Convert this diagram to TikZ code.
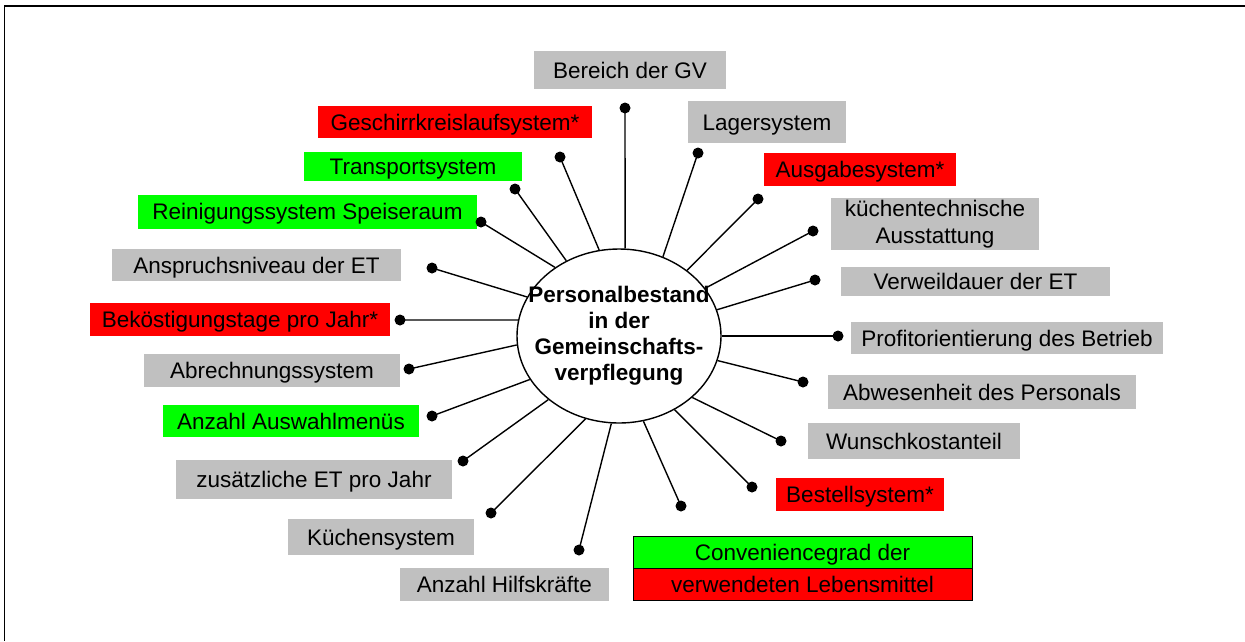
\documentclass[tikz,border=0pt]{standalone}
\usepackage{fontspec}
\setmainfont{Liberation Sans}
\usetikzlibrary{shapes.geometric}

\definecolor{boxgray}{HTML}{C0C0C0}
\definecolor{boxred}{HTML}{FF0000}
\definecolor{boxgreen}{HTML}{00FF00}

\tikzset{
  labelbase/.style={rectangle, inner sep=0pt, outer sep=0pt,
    font=\fontsize{22.5}{26}\selectfont},
  oneline/.style={labelbase, text height=16.1pt, text depth=0pt},
  graybox/.style={oneline, fill=boxgray},
  redbox/.style={oneline, fill=boxred},
  greenbox/.style={oneline, fill=boxgreen},
  pin/.style={circle, fill=black, inner sep=0pt, minimum size=11pt},
  spoke/.style={line width=1.4pt, black},
  hub/.style={ellipse, draw=black, line width=1.4pt, fill=white,
    minimum width=204pt, minimum height=174pt, inner sep=0pt}
}

\begin{document}
\begin{tikzpicture}[x=1pt, y=-1pt]
  \useasboundingbox (0,0) rectangle (1245,641);

  % frame edges
  \draw[line width=2pt] (4,6) -- (1245,6);
  \draw[line width=1pt] (4,6) -- (4,641);

  % central topic
  \node[hub] (core) at (619,336) {};
  \node[font=\fontsize{22.5}{26}\selectfont\bfseries, align=center, inner sep=0pt]
    (coretxt) at (619,336) {Personalbestand\\in der\\Gemeinschafts-\\verpflegung};

  % influencing factors
  \node[graybox, minimum width=192pt, minimum height=38pt] (bereich) at (630,70) {Bereich der GV};
  \node[graybox, minimum width=158pt, minimum height=42pt] (lager) at (767,122) {Lagersystem};
  \node[redbox, minimum width=192pt, minimum height=33pt] (ausgabe) at (860,169.5) {Ausgabesystem*};
  \node[labelbase, fill=boxgray, align=center, minimum width=208pt, minimum height=52pt,
    font=\fontsize{22.5}{27}\selectfont] (kuech) at (935,224) {küchentechnische\\Ausstattung};
  \node[graybox, minimum width=269pt, minimum height=29pt] (verweil) at (975.5,281.5) {Verweildauer der ET};
  \node[graybox, minimum width=312pt, minimum height=32pt] (profit) at (1007,338) {Profitorientierung des Betrieb};
  \node[graybox, minimum width=308pt, minimum height=34pt] (abwes) at (982,392) {Abwesenheit des Personals};
  \node[graybox, minimum width=212pt, minimum height=36pt] (wunsch) at (914,441) {Wunschkostanteil};
  \node[redbox, minimum width=168pt, minimum height=33pt] (bestell) at (860,494.5) {Bestellsystem*};
  \node[greenbox, draw=black, line width=1pt, minimum width=339pt, minimum height=32pt] (convtop) at (802.5,552) {Conveniencegrad der};
  \node[redbox, draw=black, line width=1pt, minimum width=339pt, minimum height=32pt] (convbot) at (802.5,584) {verwendeten Lebensmittel};
  \node[graybox, minimum width=209pt, minimum height=33pt] (hilfs) at (504.5,584.5) {Anzahl Hilfskräfte};
  \node[graybox, minimum width=186pt, minimum height=36pt] (kuechsys) at (381,537) {Küchensystem};
  \node[graybox, minimum width=276pt, minimum height=39pt] (zus) at (314,479.5) {zusätzliche ET pro Jahr};
  \node[greenbox, minimum width=256pt, minimum height=32pt] (auswahl) at (291,421) {Anzahl Auswahlmenüs};
  \node[graybox, minimum width=256pt, minimum height=33pt] (abrech) at (272,370.5) {Abrechnungssystem};
  \node[redbox, minimum width=300pt, minimum height=33pt] (bekost) at (240,319.5) {Beköstigungstage pro Jahr*};
  \node[graybox, minimum width=289pt, minimum height=32pt] (anspruch) at (256.5,265) {Anspruchsniveau der ET};
  \node[greenbox, minimum width=339pt, minimum height=34pt] (reinig) at (307.5,211.5) {Reinigungssystem Speiseraum};
  \node[greenbox, minimum width=218pt, minimum height=29pt] (transport) at (413,166.5) {Transportsystem};
  \node[redbox, minimum width=274pt, minimum height=32pt] (geschirr) at (455,122) {Geschirrkreislaufsystem*};

  % pin heads
  \node[pin] (p1)  at (625,108) {};
  \node[pin] (p2)  at (698,153) {};
  \node[pin] (p3)  at (758,199) {};
  \node[pin] (p4)  at (813,231) {};
  \node[pin] (p5)  at (815,280) {};
  \node[pin] (p6)  at (838,336) {};
  \node[pin] (p7)  at (803,382) {};
  \node[pin] (p8)  at (781,441) {};
  \node[pin] (p9)  at (752,487) {};
  \node[pin] (p10) at (681,506) {};
  \node[pin] (p11) at (579,550) {};
  \node[pin] (p12) at (491,513) {};
  \node[pin] (p13) at (463,461) {};
  \node[pin] (p14) at (432,416) {};
  \node[pin] (p15) at (409,369) {};
  \node[pin] (p16) at (400,320) {};
  \node[pin] (p17) at (432,268) {};
  \node[pin] (p18) at (481,222) {};
  \node[pin] (p19) at (515,189) {};
  \node[pin] (p20) at (560,157) {};

  % spokes from the hub to the pins
  \draw[spoke] (core.86)   -- (p1.center);
  \draw[spoke] (core.61)   -- (p2.center);
  \draw[spoke] (core.44)   -- (p3.center);
  \draw[spoke] (core.29)   -- (p4.center);
  \draw[spoke] (core.15)   -- (p5.center);
  \draw[spoke] (core.0)    -- (p6.center);
  \draw[spoke] (core.-14)  -- (p7.center);
  \draw[spoke] (core.-40)  -- (p8.center);
  \draw[spoke] (core.-53)  -- (p9.center);
  \draw[spoke] (core.-74)  -- (p10.center);
  \draw[spoke] (core.-95)  -- (p11.center);
  \draw[spoke] (core.-112) -- (p12.center);
  \draw[spoke] (core.-138) -- (p13.center);
  \draw[spoke] (core.-154) -- (p14.center);
  \draw[spoke] (core.-175.5) -- (p15.center);
  \draw[spoke] (core.171)  -- (p16.center);
  \draw[spoke] (core.157)  -- (p17.center);
  \draw[spoke] (core.133)  -- (p18.center);
  \draw[spoke] (core.125)  -- (p19.center);
  \draw[spoke] (core.103)  -- (p20.center);
\end{tikzpicture}
\end{document}
